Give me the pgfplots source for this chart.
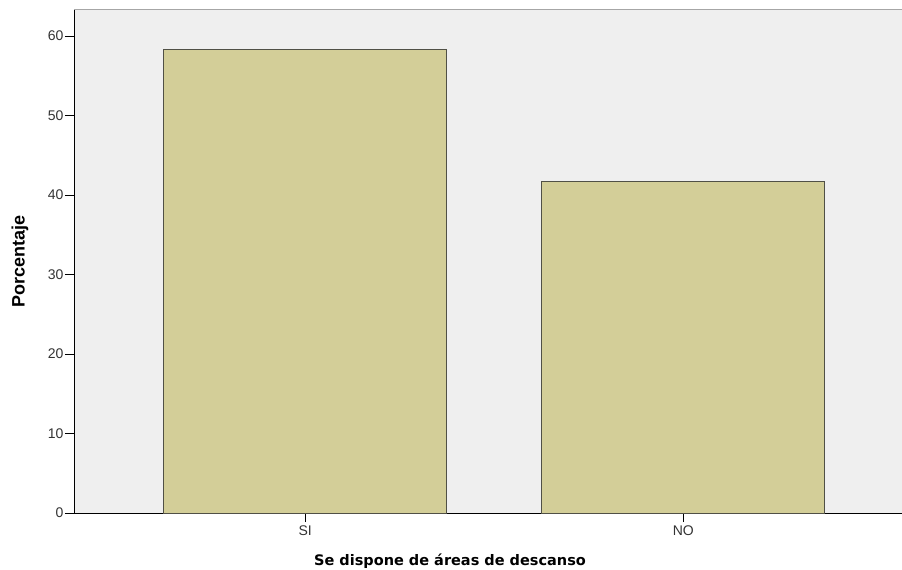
\documentclass[border=0pt]{standalone}
\usepackage{pgfplots}
\pgfplotsset{compat=1.18}
\usepackage{fontspec}
\setmainfont{Liberation Sans}
\newfontfamily\djv{DejaVu Sans}
\definecolor{barfill}{RGB}{211,206,152}
\definecolor{baredge}{RGB}{80,80,70}
\definecolor{bg}{RGB}{239,239,239}
\begin{document}
\begin{tikzpicture}
\useasboundingbox (-74pt,-57pt) rectangle (828pt,513pt);
\begin{axis}[
  at={(0,0)}, anchor=south west,
  scale only axis,
  width=828pt, height=503pt,
  xmin=-0.611, xmax=1.578,
  ymin=0, ymax=63.27,
  xtick={0,1}, xticklabels={SI,NO},
  ytick={0,10,20,30,40,50,60},
  axis x line*=bottom, axis y line*=left,
  axis line style={-, black, line width=0.9pt},
  tick align=outside, major tick length=9pt,
  tick style={black, line width=0.9pt},
  axis background/.style={fill=bg},
  /pgf/number format/assume math mode=true,
  tick label style={font=\fontsize{14}{16}\selectfont, text=black!80},
  yticklabel style={xshift=2pt},
  ylabel={Porcentaje},
  ylabel style={at={(rel axis cs:0,0.5)}, yshift=54pt, anchor=center, font=\fontsize{18}{20}\selectfont\bfseries},
  xlabel={Se dispone de áreas de descanso},
  xlabel style={at={(rel axis cs:0.5,0)}, xshift=-38pt, yshift=-48pt, anchor=center, font=\fontsize{14.5}{16}\selectfont\djv\bfseries},
  after end axis/.code={\draw[gray!70, line width=1pt] (rel axis cs:0,1) -- (rel axis cs:1,1);},
]
\addplot[ybar, bar width=0.748, fill=barfill, draw=baredge, line width=1pt] coordinates {(0,58.3) (1,41.7)};
\end{axis}
\end{tikzpicture}
\end{document}
